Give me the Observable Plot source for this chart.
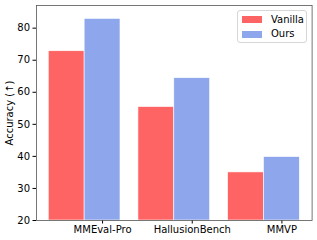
<!DOCTYPE html>
<html>
<head>
<meta charset="utf-8">
<script src="https://cdn.jsdelivr.net/npm/d3@7"></script>
<script src="https://cdn.jsdelivr.net/npm/@observablehq/plot@0.6"></script>
<style>
  html, body { margin: 0; padding: 0; background: #fff; }
  #wrap { position: relative; width: 317px; height: 240px; font-family: "DejaVu Sans", sans-serif; }
  #legend { position: absolute; left: 237px; top: 10px; width: 70px; height: 33px; box-sizing: border-box;
    border: 1px solid #d6d6d6; border-radius: 3px; background: rgba(255,255,255,0.8); font-size: 10px; color: #000; }
  .item { position: absolute; left: 4px; display: flex; align-items: center; line-height: 12px; }
  .sw { width: 20px; height: 7px; margin-right: 9px; }
</style>
</head>
<body>
<div id="wrap"></div>
<script>
const categories = ["MMEval-Pro", "HallusionBench", "MMVP"];
const series = ["Vanilla", "Ours"];
const vanilla = [72.8, 55.4, 35.0];
const ours = [82.9, 64.4, 39.8];
const yTicks = [20, 30, 40, 50, 60, 70, 80];
const colors = ["#ff6464", "#8ea7ec"];

const barW = 0.4;
const rows = [];
categories.forEach((c, i) => {
  rows.push({cat: c, idx: i, series: "Vanilla", value: vanilla[i], off: -1});
  rows.push({cat: c, idx: i, series: "Ours", value: ours[i], off: 0});
});

const pad = 0.1367;
const chart = Plot.plot({
  width: 317,
  height: 240,
  marginLeft: 36,
  marginTop: 5,
  marginRight: 5.4,
  marginBottom: 20,
  style: {fontFamily: "DejaVu Sans, sans-serif", fontSize: "10px", color: "#000", background: "#fff"},
  x: {domain: [-barW - pad, (categories.length - 1) + barW + pad]},
  y: {domain: [20, 87.07]},
  color: {domain: series, range: colors},
  marks: [
    Plot.rectY(rows, {
      x1: d => d.idx + d.off * barW,
      x2: d => d.idx + (d.off + 1) * barW,
      y1: 20,
      y2: "value",
      fill: "series",
      stroke: "white",
      strokeWidth: 0.6
    }),
    Plot.axisY({
      ticks: yTicks,
      tickSize: 3.5,
      tickPadding: 3,
      label: "Accuracy (↑)",
      labelAnchor: "center",
      labelArrow: "none",
      labelOffset: 31,
      fontSize: 10
    }),
    Plot.axisX({
      ticks: categories.map((c, i) => i + barW / 2),
      tickFormat: v => categories[Math.round(v - barW / 2)],
      tickSize: 3.5,
      tickPadding: 2,
      label: null,
      fontSize: 10
    }),
    Plot.frame({stroke: "#555", strokeWidth: 0.8})
  ]
});

const wrap = document.getElementById("wrap");
wrap.appendChild(chart);

const legend = document.createElement("div");
legend.id = "legend";
series.forEach((s, i) => {
  const it = document.createElement("div");
  it.className = "item";
  it.style.top = (i === 0 ? 2.5 : 17) + "px";
  const sw = document.createElement("div");
  sw.className = "sw";
  sw.style.background = colors[i];
  const tx = document.createElement("span");
  tx.textContent = s;
  it.appendChild(sw);
  it.appendChild(tx);
  legend.appendChild(it);
});
wrap.appendChild(legend);
</script>
</body>
</html>
